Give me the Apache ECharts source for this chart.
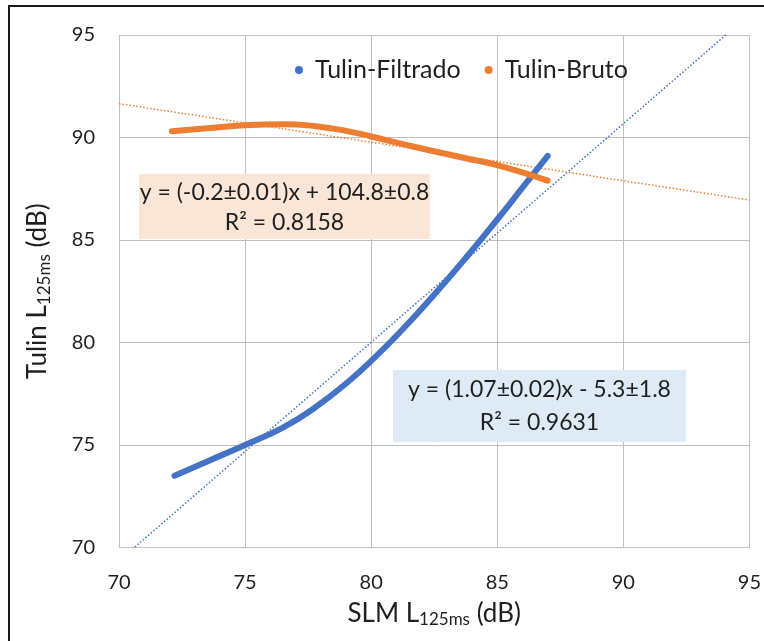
<!DOCTYPE html>
<html>
<head>
<meta charset="utf-8">
<script src="https://cdn.jsdelivr.net/npm/echarts@6/dist/echarts.min.js"></script>
<style>
  html, body { margin: 0; padding: 0; background: #fff; }
  #chart { width: 764px; height: 641px; }
</style>
</head>
<body>
<div id="chart"></div>
<script>
// Tulin-Filtrado (blue) curve
const filtX = [72.2, 73.5, 75.0, 76.5, 77.8, 79.1, 80.0, 81.1, 82.4, 83.7, 85.0, 86.0, 87.0];
const filtY = [73.5, 74.2, 75.0, 75.85, 76.85, 78.1, 79.1, 80.45, 82.2, 84.05, 86.0, 87.55, 89.1];

// Tulin-Bruto (orange) curve
const brutX = [72.1, 73.5, 75.0, 76.5, 77.8, 79.1, 80.0, 81.7, 83.7, 85.0, 87.0];
const brutY = [90.3, 90.45, 90.6, 90.65, 90.55, 90.3, 90.05, 89.55, 89.0, 88.65, 87.9];

// linear trendlines (end points at the axis limits)
const filtTrendX = [70, 95];
const filtTrendY = [69.35, 96.0];
const brutTrendX = [70, 95];
const brutTrendY = [91.65, 86.95];

const seriesNames = ["Tulin-Filtrado", "Tulin-Bruto"];
const eqBruto = ["y = (-0.2±0.01)x + 104.8±0.8", "R² = 0.8158"];
const eqFiltrado = ["y = (1.07±0.02)x - 5.3±1.8", "R² = 0.9631"];

const colors = { blue: "#4472c4", orange: "#ed7d31" };
const font = "Lato, 'Open Sans', sans-serif";
const textColor = "#1f1f1f";

const zip = (xs, ys) => xs.map((x, i) => [x, ys[i]]);

let chart = echarts.init(document.getElementById("chart"), null, { renderer: "canvas" });

const axisCommon = {
  type: "value",
  min: 70,
  max: 95,
  interval: 5,
  axisLine: { show: false },
  axisTick: { show: false },
  splitLine: { show: true, lineStyle: { color: "#bfbfbf", width: 1 } },
  nameLocation: "middle",
  nameTextStyle: {
    fontFamily: font,
    color: textColor,
    rich: {
      a: { fontFamily: font, fontSize: 26, color: textColor, lineHeight: 30 },
      b: { fontFamily: font, fontSize: 17, color: textColor, lineHeight: 16, verticalAlign: "bottom" }
    }
  },
  axisLabel: { fontFamily: font, fontSize: 20, color: textColor }
};

const option = {
  backgroundColor: "#fff",
  animation: false,
  grid: { left: 119, right: 10, top: 35, bottom: 93.5 },
  legend: {
    data: seriesNames.map(n => ({ name: n, icon: "circle" })),
    left: 290,
    top: 52,
    itemWidth: 22,
    itemHeight: 8,
    itemGap: 24,
    textStyle: { fontFamily: font, fontSize: 25, lineHeight: 26, color: textColor }
  },
  xAxis: Object.assign({}, axisCommon, {
    name: "{a|SLM L}{b|125ms}{a| (dB)}",
    nameGap: 51,
    axisLabel: Object.assign({}, axisCommon.axisLabel, { margin: 25 })
  }),
  yAxis: Object.assign({}, axisCommon, {
    name: "{a|Tulin L}{b|125ms}{a| (dB)}",
    nameGap: 66,
    nameRotate: 90,
    axisLabel: Object.assign({}, axisCommon.axisLabel, { margin: 24 })
  }),
  series: [
    {
      name: seriesNames[0],
      type: "line",
      data: zip(filtX, filtY),
      smooth: true,
      showSymbol: false,
      symbol: "circle",
      itemStyle: { color: colors.blue },
      lineStyle: { color: colors.blue, width: 6, cap: "round" },
      z: 3
    },
    {
      name: seriesNames[1],
      type: "line",
      data: zip(brutX, brutY),
      smooth: true,
      showSymbol: false,
      symbol: "circle",
      itemStyle: { color: colors.orange },
      lineStyle: { color: colors.orange, width: 6, cap: "round" },
      z: 4
    },
    {
      type: "line",
      data: zip(filtTrendX, filtTrendY),
      showSymbol: false,
      clip: true,
      lineStyle: { color: colors.blue, width: 1.5, type: [1.5, 2] },
      z: 2
    },
    {
      type: "line",
      data: zip(brutTrendX, brutTrendY),
      showSymbol: false,
      clip: true,
      lineStyle: { color: colors.orange, width: 1.5, type: [1.5, 2] },
      z: 2
    }
  ],
  graphic: [
    {
      type: "rect",
      shape: { x: 9, y: 6, width: 800, height: 700 },
      style: { fill: "none", stroke: "#1a1a1a", lineWidth: 2 },
      silent: true
    },
    {
      type: "rect",
      shape: { x: 139, y: 174, width: 291, height: 65 },
      style: { fill: "#fbe5d6" },
      z: 10
    },
    {
      type: "text",
      x: 284.5, y: 193,
      style: { text: eqBruto[0], font: "23px " + font, fill: textColor, align: "center", verticalAlign: "middle" },
      z: 11
    },
    {
      type: "text",
      x: 284.5, y: 223,
      style: { text: eqBruto[1], font: "23px " + font, fill: textColor, align: "center", verticalAlign: "middle" },
      z: 11
    },
    {
      type: "rect",
      shape: { x: 393, y: 370, width: 293, height: 72 },
      style: { fill: "#deebf7" },
      z: 10
    },
    {
      type: "text",
      x: 539.5, y: 390,
      style: { text: eqFiltrado[0], font: "23px " + font, fill: textColor, align: "center", verticalAlign: "middle" },
      z: 11
    },
    {
      type: "text",
      x: 539.5, y: 423,
      style: { text: eqFiltrado[1], font: "23px " + font, fill: textColor, align: "center", verticalAlign: "middle" },
      z: 11
    }
  ]
};

chart.setOption(option);
</script>
</body>
</html>
